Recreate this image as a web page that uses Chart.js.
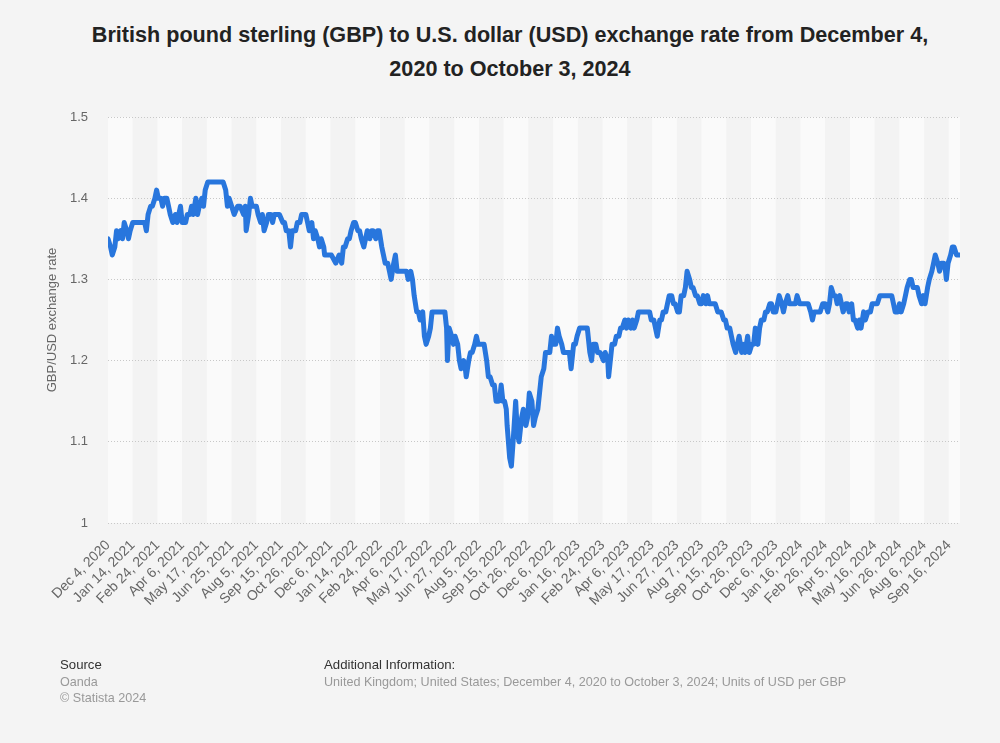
<!DOCTYPE html>
<html><head><meta charset="utf-8">
<script src="https://cdn.jsdelivr.net/npm/chart.js@4.4.1/dist/chart.umd.min.js"></script>
<style>
html,body{margin:0;padding:0;background:#f4f4f4;}
body{width:1000px;height:743px;position:relative;overflow:hidden;font-family:"Liberation Sans",Arial,sans-serif;}
#title{position:absolute;left:60px;width:900px;top:18px;text-align:center;font-weight:bold;font-size:21.6px;line-height:34px;color:#222;}
#c{position:absolute;left:0;top:0;}
.foot{position:absolute;font-size:12.6px;line-height:16.5px;}
.fh{color:#333;font-size:13.2px;}
.fg{color:#999;}
</style></head><body>
<div id="title">British pound sterling (GBP) to U.S. dollar (USD) exchange rate from December 4,<br>2020 to October 3, 2024</div>
<canvas id="c" width="1000" height="743"></canvas>
<div class="foot" style="left:60px;top:657px;"><span class="fh">Source</span><br><span class="fg">Oanda<br>© Statista 2024</span></div>
<div class="foot" style="left:324px;top:657px;"><span class="fh">Additional Information:</span><br><span class="fg">United Kingdom; United States; December 4, 2020 to October 3, 2024; Units of USD per GBP</span></div>
<script>
// Trading-day index (0 = Dec 4, 2020, 999 = Oct 3, 2024)
const days = [0,3,5,8,10,12,15,17,19,22,24,26,29,33,38,43,45,47,50,52,55,57,59,62,64,66,69,71,73,76,79,81,85,87,91,93,96,98,100,103,105,107,110,112,114,117,121,126,131,135,138,140,142,145,148,152,155,159,161,162,165,167,169,172,174,176,179,181,183,186,188,191,193,195,198,201,205,207,209,212,214,216,220,222,225,227,229,232,234,236,239,241,243,246,248,250,253,254,257,262,267,271,274,276,278,281,283,285,288,290,293,295,297,300,302,304,307,309,311,314,316,318,321,323,325,328,330,332,335,337,339,343,346,350,352,355,357,359,362,364,366,369,371,373,376,378,380,384,388,391,395,397,398,400,403,405,407,410,412,414,417,419,420,423,425,427,430,432,434,437,439,441,444,446,448,451,453,455,458,460,461,463,465,467,468,471,473,475,478,480,482,485,487,490,492,494,497,499,501,504,506,508,511,513,515,518,520,522,525,527,529,532,534,538,541,543,546,548,550,553,557,562,565,567,569,572,574,577,581,583,586,587,589,591,594,596,599,601,603,606,608,610,613,615,617,620,622,624,628,631,635,637,640,642,644,647,649,651,654,656,658,661,663,665,668,670,672,675,677,679,682,684,686,689,691,694,696,698,701,703,705,708,710,712,715,717,719,722,724,726,729,731,733,736,738,740,743,745,747,750,752,755,757,759,762,764,766,769,771,773,776,778,780,783,785,787,790,792,794,797,799,803,806,808,811,814,818,821,824,826,828,832,835,838,841,844,846,848,851,853,855,858,860,862,865,867,869,872,874,876,879,881,883,886,888,891,894,896,900,902,905,908,912,915,919,921,923,926,928,930,933,935,937,940,942,944,947,949,951,954,956,958,961,963,966,968,970,973,975,977,980,982,983,985,988,990,992,995,999];
// GBP/USD rate at each of those days
const rates = [1.35,1.34,1.33,1.34,1.36,1.35,1.36,1.35,1.37,1.36,1.35,1.36,1.37,1.37,1.37,1.37,1.36,1.38,1.39,1.39,1.40,1.41,1.40,1.40,1.39,1.40,1.40,1.39,1.38,1.37,1.38,1.37,1.39,1.37,1.37,1.38,1.38,1.39,1.38,1.40,1.38,1.39,1.40,1.39,1.41,1.42,1.42,1.42,1.42,1.42,1.41,1.39,1.40,1.39,1.38,1.39,1.39,1.38,1.39,1.36,1.38,1.40,1.39,1.39,1.39,1.38,1.37,1.38,1.36,1.37,1.38,1.38,1.37,1.38,1.38,1.38,1.37,1.37,1.36,1.36,1.34,1.36,1.36,1.37,1.37,1.38,1.38,1.38,1.37,1.36,1.37,1.35,1.36,1.35,1.34,1.35,1.34,1.33,1.33,1.33,1.32,1.33,1.32,1.34,1.34,1.35,1.35,1.36,1.37,1.37,1.36,1.36,1.35,1.34,1.35,1.36,1.35,1.36,1.36,1.35,1.36,1.36,1.34,1.33,1.32,1.32,1.31,1.30,1.32,1.33,1.31,1.31,1.31,1.31,1.30,1.31,1.30,1.28,1.26,1.26,1.25,1.26,1.23,1.22,1.23,1.24,1.26,1.26,1.26,1.26,1.26,1.24,1.20,1.24,1.23,1.22,1.23,1.22,1.20,1.19,1.20,1.19,1.18,1.20,1.21,1.21,1.22,1.23,1.22,1.22,1.22,1.22,1.20,1.18,1.18,1.17,1.17,1.15,1.15,1.16,1.17,1.15,1.15,1.14,1.12,1.08,1.07,1.10,1.15,1.11,1.10,1.13,1.14,1.12,1.13,1.16,1.15,1.12,1.13,1.14,1.16,1.18,1.19,1.21,1.21,1.21,1.23,1.22,1.22,1.24,1.23,1.22,1.21,1.21,1.21,1.19,1.22,1.22,1.23,1.24,1.24,1.24,1.21,1.20,1.22,1.22,1.21,1.21,1.20,1.21,1.20,1.18,1.20,1.22,1.22,1.23,1.23,1.24,1.24,1.25,1.24,1.25,1.24,1.25,1.24,1.25,1.26,1.26,1.26,1.26,1.26,1.25,1.25,1.24,1.23,1.25,1.25,1.26,1.26,1.27,1.28,1.28,1.27,1.27,1.26,1.26,1.28,1.28,1.29,1.31,1.30,1.29,1.29,1.28,1.28,1.27,1.27,1.28,1.27,1.28,1.27,1.27,1.27,1.27,1.26,1.26,1.26,1.25,1.25,1.24,1.24,1.23,1.22,1.21,1.22,1.23,1.21,1.22,1.21,1.23,1.21,1.22,1.22,1.24,1.22,1.24,1.25,1.25,1.26,1.26,1.27,1.27,1.26,1.26,1.27,1.28,1.27,1.26,1.27,1.28,1.27,1.27,1.27,1.28,1.27,1.27,1.27,1.27,1.26,1.25,1.26,1.26,1.26,1.27,1.27,1.26,1.27,1.29,1.28,1.28,1.27,1.28,1.27,1.26,1.27,1.27,1.26,1.27,1.25,1.25,1.24,1.25,1.24,1.26,1.25,1.26,1.26,1.27,1.27,1.27,1.28,1.28,1.28,1.28,1.28,1.27,1.26,1.26,1.27,1.26,1.27,1.28,1.29,1.30,1.30,1.29,1.29,1.29,1.28,1.27,1.28,1.27,1.29,1.30,1.31,1.32,1.33,1.32,1.31,1.32,1.32,1.31,1.30,1.32,1.33,1.34,1.34,1.33,1.33];
const tickDays = [0,29,58,87,116,145,174,203,232,261,290,319,348,377,406,435,464,493,522,551,580,609,638,667,696,725,754,783,812,841,870,899,928,957,986];
const tickLabels = ["Dec 4, 2020","Jan 14, 2021","Feb 24, 2021","Apr 6, 2021","May 17, 2021","Jun 25, 2021","Aug 5, 2021","Sep 15, 2021","Oct 26, 2021","Dec 6, 2021","Jan 14, 2022","Feb 24, 2022","Apr 6, 2022","May 17, 2022","Jun 27, 2022","Aug 5, 2022","Sep 15, 2022","Oct 26, 2022","Dec 6, 2022","Jan 16, 2023","Feb 24, 2023","Apr 6, 2023","May 17, 2023","Jun 27, 2023","Aug 7, 2023","Sep 15, 2023","Oct 26, 2023","Dec 6, 2023","Jan 16, 2024","Feb 26, 2024","Apr 5, 2024","May 16, 2024","Jun 26, 2024","Aug 6, 2024","Sep 16, 2024"];
const yTicks = [1, 1.1, 1.2, 1.3, 1.4, 1.5];
const lastDay = 999;

const FONT = '"Liberation Sans", Arial, Helvetica, sans-serif';

const bandsPlugin = {
  id: 'bands',
  beforeDraw(chart) {
    const {ctx, chartArea: a, scales: {x}} = chart;
    ctx.save();
    for (let k = 0; k < tickDays.length; k++) {
      const x0 = x.getPixelForValue(tickDays[k]);
      const x1 = k + 1 < tickDays.length ? x.getPixelForValue(tickDays[k + 1]) : a.right;
      ctx.fillStyle = k % 2 === 0 ? '#fafafa' : '#f3f3f3';
      ctx.fillRect(x0, a.top, x1 - x0, a.bottom - a.top);
    }
    ctx.restore();
  }
};

new Chart(document.getElementById('c'), {
  type: 'line',
  data: {
    datasets: [{
      data: days.map((d, i) => ({x: d, y: rates[i]})),
      borderColor: '#2876dd',
      borderWidth: 5,
      pointRadius: 0,
      tension: 0,
      borderJoinStyle: 'round',
      borderCapStyle: 'round',
      fill: false
    }]
  },
  options: {
    responsive: false,
    animation: false,
    layout: {padding: {left: 0, right: 40, top: 117, bottom: 100}},
    plugins: {legend: {display: false}, tooltip: {enabled: false}, title: {display: false}},
    scales: {
      x: {
        type: 'linear', min: 0, max: lastDay,
        afterBuildTicks: s => { s.ticks = tickDays.map(v => ({value: v})); },
        afterFit: s => { s.height = 120; },
        grid: {display: false, drawTicks: false},
        border: {display: false},
        ticks: {
          autoSkip: false, maxRotation: 45, minRotation: 45, padding: 14,
          color: '#666', font: {size: 14, family: FONT},
          callback: v => tickLabels[tickDays.indexOf(v)]
        }
      },
      y: {
        min: 1, max: 1.5,
        afterBuildTicks: s => { s.ticks = yTicks.map(v => ({value: v})); },
        afterFit: s => { s.width = 108; },
        grid: {color: '#c8c8c8', lineWidth: 1, drawTicks: false},
        border: {display: false, dash: [1, 2]},
        ticks: {padding: 20, color: '#666', font: {size: 13, family: FONT},
          callback: v => String(Math.round(v * 10) / 10)},
        title: {display: true, text: 'GBP/USD exchange rate', color: '#666',
          font: {size: 13, family: FONT}, padding: {top: 45, bottom: 0}}
      }
    }
  },
  plugins: [bandsPlugin]
});
</script>
</body></html>
